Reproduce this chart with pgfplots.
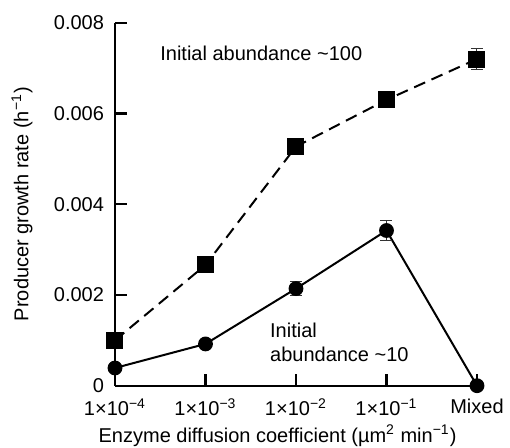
\documentclass[border=0pt]{standalone}
\usepackage{fontspec}
\setmainfont{Liberation Sans}
\usepackage{pgfplots}
\pgfplotsset{compat=1.18}

\pgfplotstableread{
x y err
0 0.00100 0
1 0.00266 0
2 0.00527 0
3 0.00630 0
4 0.00720 0.00023
}\highabund

\pgfplotstableread{
x y err
0 0.00039 0
1 0.00092 0
2 0.00214 0.00015
3 0.00342 0.00022
4 0.00000 0
}\lowabund

\begin{document}
\begin{tikzpicture}
\begin{axis}[scale only axis, width=181pt, height=181.5pt,
  xmin=0, xmax=4, ymin=0, ymax=0.008,
  axis lines=left, axis line style={-, line width=1.1pt},
  xtick={0,1,2,3,4},
  xticklabels={1×10\textsuperscript{−4},1×10\textsuperscript{−3},1×10\textsuperscript{−2},1×10\textsuperscript{−1},Mixed},
  ytick={0,0.002,0.004,0.006,0.008},
  yticklabels={0,0.002,0.004,0.006,0.008},
  scaled y ticks=false,
  tick align=inside, major tick length=6pt,
  tick style={line width=1.1pt, black},
  xticklabel style={yshift=-3pt},
  yticklabel style={xshift=-2pt},
  xlabel={Enzyme diffusion coefficient (µm\textsuperscript{2} min\textsuperscript{−1})},
  ylabel={Producer growth rate (h\textsuperscript{−1})},
  xlabel style={at={(axis description cs:0.449,-0.138)}, anchor=center},
  ylabel style={at={(axis description cs:-0.257,0.5)}, anchor=center},
  clip=false,
  error bars/y dir=both, error bars/y explicit,
  error bars/error bar style={line width=0.5pt, black!80},
  error bars/error mark options={rotate=90, mark size=3pt, line width=0.5pt, black!80}]
\addplot[black, line width=1pt, dash pattern=on 6pt off 3.5pt, mark=square*, mark size=3.75pt, mark options={solid}]
  table[x=x, y=y, y error=err] {\highabund};
\addplot[black, line width=1pt, mark=*, mark size=3.2pt]
  table[x=x, y=y, y error=err] {\lowabund};
\node[anchor=west, inner sep=0pt] at (axis cs:0.497,0.00733) {Initial abundance \textasciitilde100};
\node[anchor=west, align=left, inner sep=0pt] at (axis cs:1.71,0.00096) {Initial\\abundance \textasciitilde10};
\end{axis}
\pgfresetboundingbox
\path (-57.5pt,-31.15pt) rectangle (197.5pt,192.85pt);
\end{tikzpicture}
\end{document}
